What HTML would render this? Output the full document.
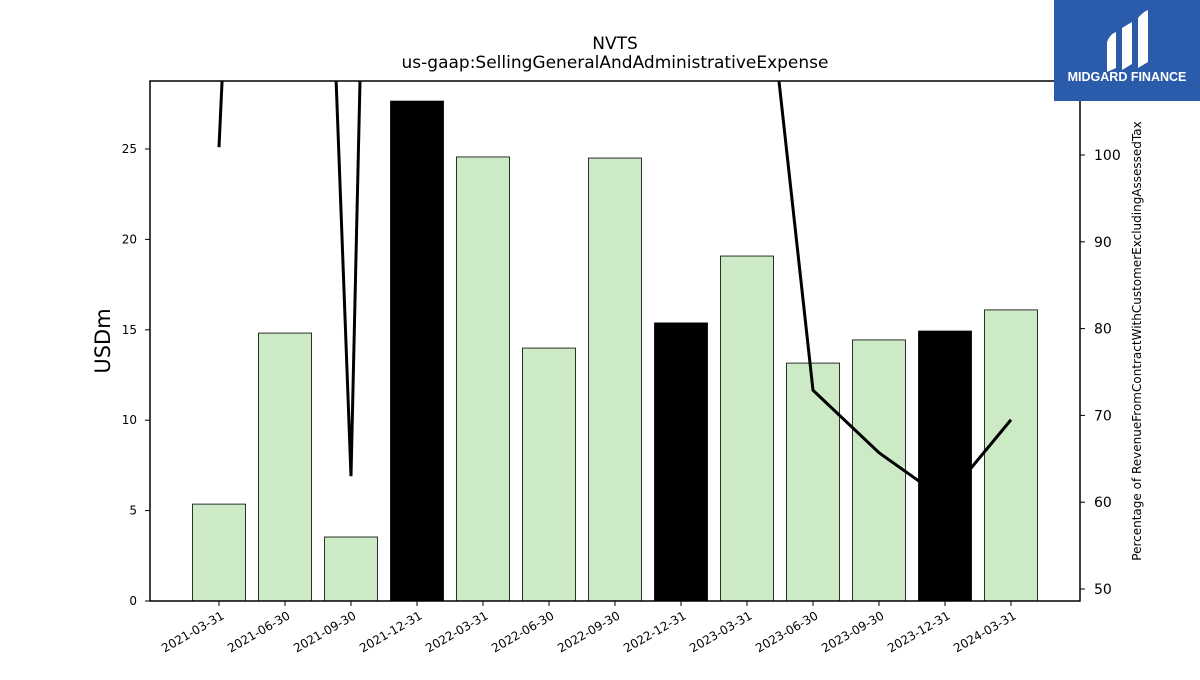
<!DOCTYPE html>
<html><head><meta charset="utf-8"><style>
body{margin:0;background:#fff;width:1200px;height:675px;overflow:hidden;font-family:"Liberation Sans","DejaVu Sans",sans-serif;}
</style></head><body>
<svg id="c" width="1200" height="675" xmlns="http://www.w3.org/2000/svg" font-family="DejaVu Sans, Liberation Sans, sans-serif">
<text x="615" y="49" text-anchor="middle" font-size="17">NVTS</text>
<text x="615" y="68" text-anchor="middle" font-size="17">us-gaap:SellingGeneralAndAdministrativeExpense</text>
<g id="bars"></g>
<defs><clipPath id="pc"><rect x="150" y="81" width="930" height="520"/></clipPath></defs>
<g id="line" clip-path="url(#pc)"></g>
<rect x="150" y="81" width="930" height="520" fill="none" stroke="#000" stroke-width="1.5"/>
<g id="axes"></g>
<text transform="translate(110,341) rotate(-90)" text-anchor="middle" font-size="21">USDm</text>
<text transform="translate(1141,341) rotate(-90)" text-anchor="middle" font-size="12">Percentage of RevenueFromContractWithCustomerExcludingAssessedTax</text>
<g>
<rect x="1054" y="0" width="146" height="101" fill="#2b5bab"/>
<path d="M1107 42 Q1110 34 1116 32 L1116 68 L1107 72 Z" fill="#fff"/>
<path d="M1122 28 L1132 22 L1132 64 L1122 70 Z" fill="#fff"/>
<path d="M1138 18 Q1143 12 1148 10 L1148 62 L1138 68 Z" fill="#fff"/>
<text x="1127" y="81" text-anchor="middle" font-size="12.5" font-weight="bold" fill="#fff" font-family="Liberation Sans, sans-serif">MIDGARD FINANCE</text>
</g>
</svg>
<script>
const categories=["2021-03-31","2021-06-30","2021-09-30","2021-12-31","2022-03-31","2022-06-30","2022-09-30","2022-12-31","2023-03-31","2023-06-30","2023-09-30","2023-12-31","2024-03-31"];
const sgaValues=[5.36,14.82,3.54,27.65,24.56,13.99,24.5,15.38,19.08,13.16,14.44,14.93,16.1];
const pctValues=[100.9,265,63.0,397,250,250,250,200,142,72.9,65.7,60.3,69.5];
const leftTicks=[0,5,10,15,20,25];
const rightTicks=[50,60,70,80,90,100];
const NS="http://www.w3.org/2000/svg";
const xC=i=>219+i*66;
const yL=v=>601-v*18.08;
const yR=v=>155-(v-100)*8.68;
function mk(t,a,p){const e=document.createElementNS(NS,t);for(const k in a)e.setAttribute(k,a[k]);p.appendChild(e);return e;}
const bars=document.getElementById('bars'),line=document.getElementById('line'),axes=document.getElementById('axes');
categories.forEach((c,i)=>{
 const dec=c.endsWith('12-31');
 const r=mk('rect',{x:xC(i)-26.5,y:yL(sgaValues[i]),width:53,height:601-yL(sgaValues[i]),fill:dec?'#000':'#cdeac6',stroke:'#000','stroke-width':0.8},bars);
 
 
 const tk=mk('line',{x1:xC(i),x2:xC(i),y1:601,y2:606,stroke:'#000'},axes);
 
 
 const t=mk('text',{x:0,y:0,'font-size':12,'text-anchor':'end',transform:`translate(${xC(i)+6},${618}) rotate(-30)`},axes);
 t.textContent=c;
 
 
});
const pl=mk('polyline',{points:pctValues.map((v,i)=>xC(i)+','+yR(v)).join(' '),fill:'none',stroke:'#000','stroke-width':3},line);


leftTicks.forEach(v=>{
 const l=mk('line',{x1:145,x2:150,y1:yL(v),y2:yL(v),stroke:'#000'},axes);
 
 
 const t=mk('text',{x:137,y:yL(v)+4,'font-size':12,'text-anchor':'end'},axes);
 t.textContent=v;
 
 
});
rightTicks.forEach(v=>{
 const l=mk('line',{x1:1080,x2:1085,y1:yR(v),y2:yR(v),stroke:'#000'},axes);
 
 
 const t=mk('text',{x:1094,y:yR(v)+5,'font-size':14},axes);
 t.textContent=v;
 
 
});
</script>
</body></html>
